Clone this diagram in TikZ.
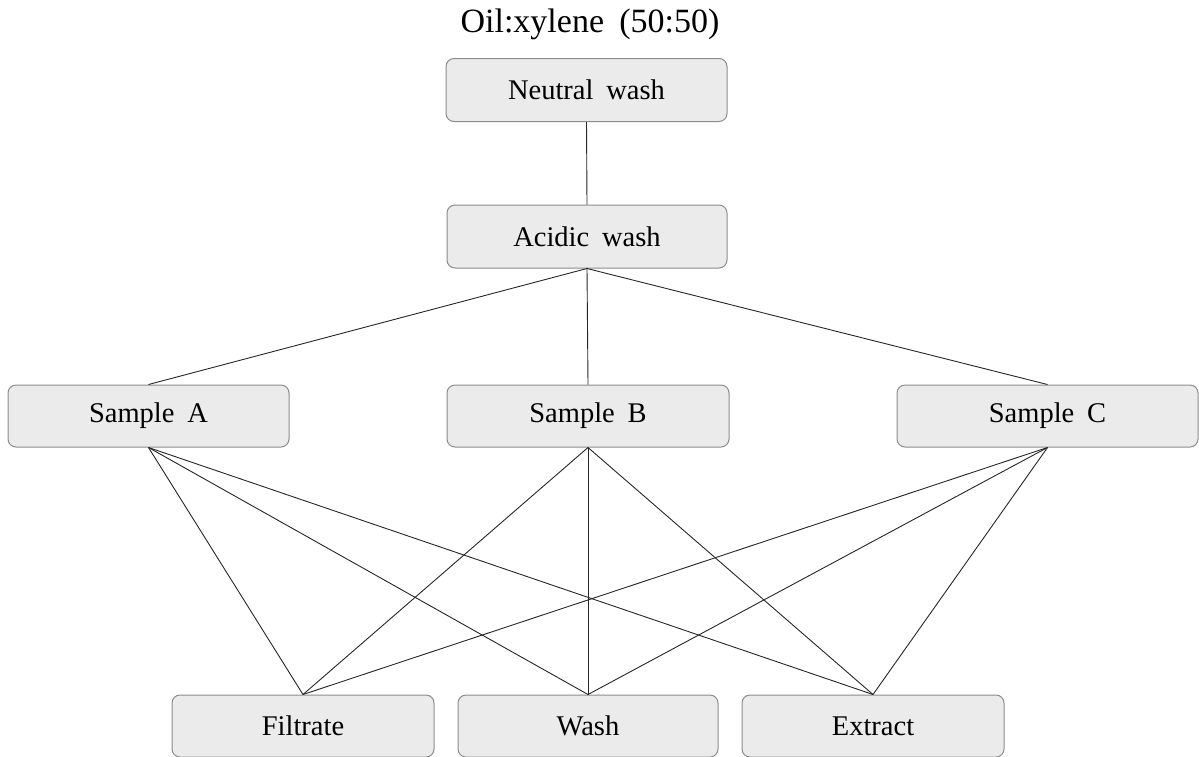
\documentclass[tikz,border=0pt]{standalone}
\usepackage{fontspec}
\setmainfont{Liberation Serif}[WordSpace=1.8]
\begin{document}
\begin{tikzpicture}[x=1pt,y=1pt,
  box/.style={draw=black!45, fill=black!8, rounded corners=8pt, line width=1pt,
    minimum height=63pt, inner sep=0pt, font=\fontsize{28.5}{32}\selectfont},
  link/.style={draw=black!85, line width=0.9pt}]
\useasboundingbox (0,0) rectangle (1199,-756);
\node[font=\fontsize{34}{38}\selectfont] (title) at (590,-24) {Oil:xylene (50:50)};
\node[box, minimum width=281pt] (neutral) at (586.5,-90) {Neutral wash};
\node[box, minimum width=280pt] (acidic) at (587,-236.5) {Acidic wash};
\node[box, minimum width=281pt, minimum height=62pt] (sa) at (148.5,-416) {Sample A};
\node[box, minimum width=282pt, minimum height=62pt] (sb) at (588,-416) {Sample B};
\node[box, minimum width=301pt, minimum height=62pt] (sc) at (1047.5,-416) {Sample C};
\node[box, minimum width=262pt, minimum height=62pt] (fil) at (303,-726) {Filtrate};
\node[box, minimum width=260pt, minimum height=62pt] (wash) at (588,-726) {Wash};
\node[box, minimum width=262pt, minimum height=62pt] (ext) at (873,-726) {Extract};
\draw[link] (neutral.south) -- (acidic.north);
\foreach \s in {sa,sb,sc} {
  \draw[link] (acidic.south) -- (\s.north);
  \foreach \t in {fil,wash,ext} {
    \draw[link] (\s.south) -- (\t.north);
  }
}
\end{tikzpicture}
\end{document}
